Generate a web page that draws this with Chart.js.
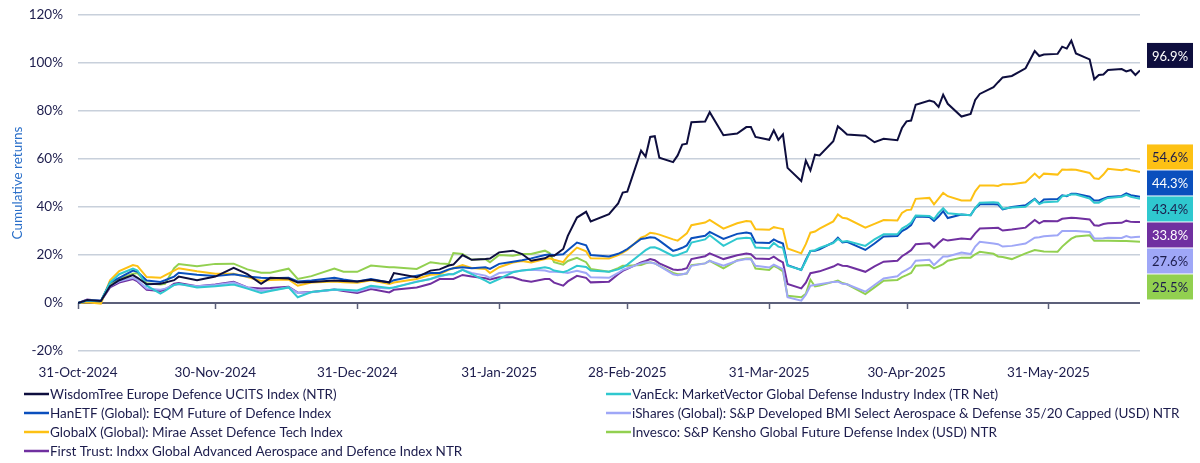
<!DOCTYPE html>
<html lang="en">
<head>
<meta charset="UTF-8">
<title>Defence indices - cumulative returns</title>
<script src="https://cdn.jsdelivr.net/npm/chart.js"></script>
<style>
  body { margin: 0; background: #ffffff; }
  #wrap { width: 1200px; height: 463px; position: relative; }
</style>
</head>
<body>
<div id="wrap"><canvas id="chart"></canvas></div>
<script>
// days since 31-Oct-2024
const days = [
  0,2,5,7,9,12,13,15,18,19,
  21,22,26,30,34,37,40,42,46,48,
  51,56,58,61,64,68,69,74,77,79,
  81,82,84,86,89,90,92,95,97,99,
  102,103,104,106,107,109,111,112,116,118,
  119,120,123,124,125,126,127,130,131,132,
  133,134,137,138,141,144,146,147,148,151,
  152,153,154,155,158,159,160,161,162,165,
  166,167,168,172,174,176,179,180,181,182,
  183,186,187,188,189,190,193,195,196,197,
  200,201,202,204,207,209,210,211,214,215,
  216,217,218,221,222,223,224,225,228,229,
  230,231,232
];

const wisdomTree = [
  0,1.2,0.8,7.0,9.5,11.6,10.5,7.8,8.0,8.5,
  9.5,11.0,9.5,11.0,14.6,12.0,8.0,10.5,10.2,8.5,
  8.8,9.4,9.2,9.0,9.7,8.6,12.5,10.7,13.5,14.0,
  15.6,16.0,20.0,18.0,18.3,18.5,21.1,21.8,20.4,17.6,
  18.6,19.7,19.7,22.5,28.0,35.6,38.0,34.0,37.0,41.5,
  46.0,46.4,63.5,61.0,69.2,69.5,60.5,58.7,61.5,66.0,
  66.4,75.3,75.6,79.5,69.9,70.6,73.3,73.3,69.2,68.0,
  72.0,68.0,70.3,56.3,50.8,59.3,55.2,61.8,61.5,67.4,
  73.6,72.0,70.2,69.7,67.0,68.4,67.8,72.9,75.7,76.0,
  82.6,84.4,83.8,81.7,86.8,83.0,77.7,78.8,84.6,87.1,
  89.9,92.0,94.0,94.6,97.8,105.0,102.9,103.5,103.8,106.8,
  106.0,109.3,104.0,101.5,93.2,95.0,95.2,97.1,97.5,96.5,
  97.1,95.0,96.9
];
const vanEck = [
  0,1.0,0.8,8.5,12.0,14.3,13.5,7.2,3.9,5.0,
  7.5,8.0,6.5,7.0,7.7,6.0,4.2,5.0,6.5,2.4,
  4.6,5.6,5.5,5.2,7.2,6.3,6.5,8.8,10.0,11.4,
  12.0,12.0,13.8,12.0,9.3,8.3,10.0,12.8,13.5,14.0,
  14.9,14.5,13.5,12.8,13.5,15.5,15.0,13.5,13.0,14.0,
  14.8,16.0,20.5,22.0,23.1,23.2,22.5,19.6,20.0,20.8,
  21.5,25.2,26.5,28.2,23.8,26.8,27.2,27.0,23.1,22.8,
  25.0,23.5,23.0,15.5,13.8,17.5,21.7,22.0,23.0,25.0,
  26.7,25.5,25.8,23.8,26.5,28.6,28.6,31.0,32.1,33.5,
  36.5,36.3,35.0,37.5,39.5,37.4,36.9,36.6,39.5,41.8,
  42.0,41.8,39.3,39.8,40.1,43.2,41.2,42.0,42.3,44.5,
  44.8,45.2,45.2,43.5,41.8,41.8,43.0,43.8,44.3,45.1,
  44.3,43.8,43.4
];
const hanEtf = [
  0,1.0,0.9,8.5,10.5,13.5,13.0,9.4,8.8,9.5,
  11.0,12.6,11.8,11.2,12.0,11.0,10.5,10.3,10.5,9.0,
  9.4,10.5,9.8,9.0,10.0,8.6,9.5,11.4,12.5,12.5,
  14.0,14.5,14.9,14.5,14.9,14.2,16.3,17.2,17.8,18.6,
  20.0,20.2,20.0,20.3,22.0,25.2,24.0,20.0,19.4,20.5,
  21.4,22.5,26.7,27.0,27.4,27.2,26.0,21.7,22.3,23.0,
  24.0,27.0,28.0,29.6,26.7,28.8,29.4,29.0,25.2,25.0,
  26.5,25.5,24.8,15.8,13.8,18.0,21.7,21.8,22.4,25.2,
  27.2,25.2,25.5,22.1,24.8,27.7,27.9,30.0,31.0,32.5,
  36.0,35.8,34.2,36.0,38.3,35.4,36.9,36.6,39.5,41.1,
  41.1,41.0,39.0,40.0,40.7,43.4,41.5,43.1,43.3,44.9,
  44.5,45.5,45.5,44.3,42.7,42.7,43.5,44.2,44.6,45.7,
  44.9,44.6,44.3
];
const iShares = [
  0,1.2,0.9,7.0,9.0,10.5,9.5,6.0,5.5,6.0,
  7.5,7.8,7.0,7.5,8.5,6.5,5.0,5.3,6.5,4.2,
  4.5,5.5,5.4,4.8,6.5,6.0,6.5,9.0,10.0,11.0,
  12.0,12.0,13.8,12.5,11.4,10.5,12.5,13.0,13.5,13.9,
  13.5,13.0,13.0,12.8,12.5,13.4,12.5,10.7,10.5,12.5,
  13.8,14.5,16.5,17.0,16.9,16.5,15.5,12.0,11.6,12.0,
  12.4,15.5,16.5,17.6,15.5,17.6,18.3,18.2,15.5,14.8,
  16.0,15.0,14.1,2.4,1.0,3.5,7.2,7.5,7.8,8.8,
  8.9,8.0,7.8,4.7,7.5,10.2,11.1,12.8,13.8,15.0,
  17.6,18.0,15.8,17.6,19.4,19.4,21.0,20.4,23.5,25.5,
  24.8,24.5,23.5,23.8,24.8,27.2,27.4,27.8,28.2,30.0,
  30.0,30.0,30.0,29.6,26.9,26.9,27.0,27.2,27.1,27.9,
  27.3,27.5,27.6
];
const globalX = [
  0,0.3,-0.3,9.5,13.3,15.8,15.4,10.8,10.5,11.5,
  13.5,14.5,13.2,12.2,12.2,10.8,9.2,9.6,9.8,7.2,
  8.5,9.0,8.6,8.4,9.5,7.9,8.5,10.0,11.8,12.0,
  13.8,14.5,15.8,14.6,14.2,12.5,14.9,16.9,17.5,16.9,
  18.3,18.6,18.0,17.0,19.5,23.1,21.5,18.6,18.5,20.0,
  21.0,22.1,27.2,28.0,29.3,29.0,28.5,26.5,26.0,27.5,
  29.0,32.4,33.5,34.6,31.0,33.2,34.2,34.0,30.7,30.5,
  31.6,31.2,30.8,22.7,20.7,24.5,29.3,29.8,31.0,34.0,
  36.9,35.5,35.2,31.4,33.0,34.6,34.4,37.5,38.7,38.9,
  43.4,43.8,41.1,43.5,45.9,44.5,42.7,42.7,46.5,49.0,
  49.0,48.8,49.5,49.5,50.3,53.9,52.1,53.9,53.5,55.6,
  55.5,55.6,55.5,54.2,52.0,51.7,53.5,55.9,55.3,55.8,
  55.3,55.0,54.6
];
const invesco = [
  0,0.8,0.6,8.0,10.0,12.2,12.5,8.2,7.7,8.0,
  14.5,16.2,15.3,16.3,16.4,14.0,12.6,12.6,14.3,10.0,
  11.2,14.4,13.0,13.0,15.6,14.9,14.9,14.2,17.0,16.5,
  16.3,20.8,20.4,18.0,18.3,17.0,20.0,19.7,20.4,20.4,
  21.8,20.8,17.0,16.0,17.5,18.8,17.0,14.2,13.0,14.5,
  15.5,15.5,15.8,16.5,17.0,16.5,15.5,12.5,12.0,12.0,
  12.3,15.8,16.5,17.6,14.4,17.8,18.5,18.5,14.4,13.8,
  15.5,14.5,13.2,3.0,2.4,3.8,9.7,6.9,7.3,8.8,
  9.3,8.3,7.8,3.7,6.5,9.3,9.6,10.8,11.6,12.5,
  15.5,15.8,14.4,15.3,16.2,17.6,18.9,18.9,20.3,21.3,
  20.5,19.4,19.2,18.3,20.7,22.1,21.8,21.5,21.4,23.5,
  25.2,26.8,27.7,28.2,25.9,25.9,25.9,25.9,25.8,25.8,
  25.7,25.6,25.5
];
const firstTrust = [
  0,1.4,0.8,6.5,8.5,10.0,9.0,5.5,5.0,5.5,
  8.0,8.3,7.0,7.7,8.8,6.5,6.0,6.2,6.8,4.3,
  4.6,5.6,5.0,4.2,5.8,4.4,5.5,6.5,8.0,10.0,
  10.0,10.0,11.7,11.0,10.3,9.8,10.7,10.7,9.5,8.9,
  10.0,10.0,8.5,7.2,9.0,11.3,10.5,8.6,8.9,12.0,
  13.4,14.2,16.9,17.5,18.3,17.8,16.5,14.0,13.8,14.0,
  14.5,18.3,19.5,20.7,18.3,19.9,20.6,20.3,18.5,18.3,
  19.3,18.0,16.9,7.9,6.1,8.5,12.4,12.8,13.2,15.2,
  16.2,15.5,15.4,13.0,15.3,17.2,17.6,19.5,20.7,22.0,
  24.5,24.9,23.1,25.0,26.6,26.0,26.9,26.6,29.0,31.0,
  31.2,31.3,30.2,30.6,31.4,34.6,33.2,34.2,34.1,35.1,
  35.3,35.5,35.4,34.8,32.4,32.2,32.9,33.2,33.4,34.3,
  33.8,33.7,33.8
];

const seriesNames = [
  'WisdomTree Europe Defence UCITS Index (NTR)',
  'VanEck: MarketVector Global Defense Industry Index (TR Net)',
  'HanETF (Global): EQM Future of Defence Index',
  'iShares (Global): S&P Developed BMI Select Aerospace & Defense 35/20 Capped (USD) NTR',
  'GlobalX (Global): Mirae Asset Defence Tech Index',
  'Invesco: S&P Kensho Global Future Defense Index (USD) NTR',
  'First Trust: Indxx Global Advanced Aerospace and Defence Index NTR'
];
const seriesValues = [wisdomTree, vanEck, hanEtf, iShares, globalX, invesco, firstTrust];
const seriesColors = ['#0e0e3e', '#2fc8cf', '#0a4fbd', '#9fa7f7', '#fdc114', '#92d050', '#7030a0'];
const boxTextColors = ['#ffffff', '#1c1c4c', '#ffffff', '#1c1c4c', '#1c1c4c', '#1c1c4c', '#ffffff'];

const tickDays = [0, 30, 61, 92, 120, 151, 181, 212];
const tickLabels = ['31-Oct-2024', '30-Nov-2024', '31-Dec-2024', '31-Jan-2025',
                    '28-Feb-2025', '31-Mar-2025', '30-Apr-2025', '31-May-2025'];

const FONT = 'Lato, "Noto Sans", sans-serif';
const TEXT = '#1c1c4c';

const extras = {
  id: 'extras',
  beforeDatasetsDraw(chart) {
    // small tick marks hanging from the 0% line
    const ctx = chart.ctx, x = chart.scales.x, y = chart.scales.y;
    const y0 = y.getPixelForValue(0);
    ctx.save();
    ctx.strokeStyle = '#5c607a';
    ctx.lineWidth = 1.5;
    tickDays.forEach(d => {
      const px = Math.round(x.getPixelForValue(d)) + 0.5;
      ctx.beginPath();
      ctx.moveTo(px, y0);
      ctx.lineTo(px, y0 + 6);
      ctx.stroke();
    });
    ctx.restore();
  },
  afterDraw(chart) {
    const ctx = chart.ctx, y = chart.scales.y, area = chart.chartArea;
    ctx.save();
    // end value boxes, stacked so they don't overlap
    const order = seriesValues.map((v, i) => i)
      .sort((a, b) => seriesValues[b][seriesValues[b].length - 1] - seriesValues[a][seriesValues[a].length - 1]);
    let prev = -Infinity;
    const bw = 46, bh = 25, gap = 1;
    ctx.font = '13px ' + FONT;
    ctx.textAlign = 'center';
    ctx.textBaseline = 'middle';
    order.forEach(i => {
      const last = seriesValues[i][seriesValues[i].length - 1];
      let cy = y.getPixelForValue(last) - 15;
      if (cy < prev + bh + gap) cy = prev + bh + gap;
      prev = cy;
      const bx = area.right + 7;
      ctx.fillStyle = seriesColors[i];
      ctx.fillRect(bx, cy - bh / 2, bw, bh);
      ctx.fillStyle = boxTextColors[i];
      ctx.fillText(last.toFixed(1) + '%', bx + bw / 2, cy + 1);
    });

    // legend: two columns, filled row by row
    const colX = [24, 606];
    const rowY = [394, 413, 432, 451];
    ctx.textAlign = 'left';
    ctx.font = '13.5px ' + FONT;
    seriesNames.forEach((name, i) => {
      const cx = colX[i % 2], cy = rowY[Math.floor(i / 2)];
      ctx.strokeStyle = seriesColors[i];
      ctx.lineWidth = 2.5;
      ctx.beginPath();
      ctx.moveTo(cx, cy);
      ctx.lineTo(cx + 25, cy);
      ctx.stroke();
      ctx.fillStyle = TEXT;
      ctx.fillText(name, cx + 26, cy + 1);
    });
    ctx.restore();
  }
};

new Chart(document.getElementById('chart'), {
  type: 'line',
  data: {
    datasets: seriesValues.map((vals, i) => ({
      label: seriesNames[i],
      data: vals.map((v, k) => ({ x: days[k], y: v })),
      borderColor: seriesColors[i],
      borderWidth: 2,
      pointRadius: 0,
      tension: 0,
      fill: false
    }))
  },
  options: {
    responsive: true,
    maintainAspectRatio: false,
    animation: false,
    layout: { padding: { top: 15, right: 60, left: 0, bottom: 0 } },
    plugins: {
      legend: { display: false },
      tooltip: { enabled: false }
    },
    scales: {
      x: {
        type: 'linear',
        min: 0,
        max: 232,
        afterFit: s => { s.height = 112; s.paddingLeft = 0; s.paddingRight = 0; },
        afterBuildTicks: s => { s.ticks = tickDays.map(v => ({ value: v })); },
        grid: { display: false, drawTicks: false },
        border: { display: false },
        ticks: {
          padding: 14,
          maxRotation: 0,
          autoSkip: false,
          color: TEXT,
          font: { family: FONT, size: 13.5 },
          callback: v => tickLabels[tickDays.indexOf(v)]
        }
      },
      y: {
        min: -20,
        max: 120,
        afterFit: s => { s.width = 78; s.paddingTop = 0; s.paddingBottom = 0; },
        grid: {
          drawTicks: false,
          color: c => c.tick && c.tick.value === 0 ? '#5c607a' : '#c8d0db',
          lineWidth: c => c.tick && c.tick.value === 0 ? 2 : 1.5
        },
        border: { display: false },
        ticks: {
          stepSize: 20,
          padding: 15,
          color: TEXT,
          font: { family: FONT, size: 13.5 },
          callback: v => v + '%'
        },
        title: {
          display: true,
          text: 'Cumulative returns',
          color: '#2a6fc9',
          font: { family: FONT, size: 13.5 },
          padding: { top: 10, bottom: 0 }
        }
      }
    }
  },
  plugins: [extras]
});
</script>
</body>
</html>
